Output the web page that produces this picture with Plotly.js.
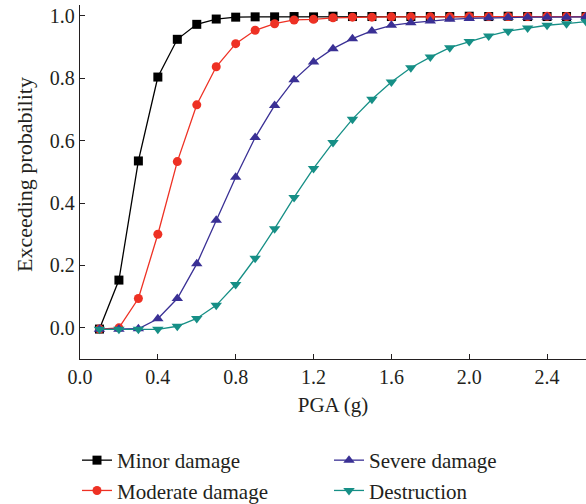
<!DOCTYPE html>
<html>
<head>
<meta charset="utf-8">
<script src="https://cdn.plot.ly/plotly-3.0.1.min.js"></script>
<style>html,body{margin:0;padding:0;background:#fff;}#chart{width:586px;height:504px;}</style>
</head>
<body>
<div id="chart"></div>
<script>
const pga = [0.1,0.2,0.3,0.4,0.5,0.6,0.7,0.8,0.9,1.0,1.1,1.2,1.3,1.4,1.5,1.6,1.7,1.8,1.9,2.0,2.1,2.2,2.3,2.4,2.5,2.6];
const minorDamage = [-0.004,0.153,0.535,0.804,0.925,0.973,0.99,0.996,0.997,0.997,0.998,0.997,0.999,0.998,0.998,0.998,0.998,0.998,0.998,0.999,0.998,0.999,0.998,0.998,0.998,0.998];
const moderateDamage = [-0.004,0.0,0.094,0.30,0.533,0.715,0.837,0.911,0.954,0.975,0.987,0.989,0.994,0.996,0.996,0.997,0.997,0.997,0.997,0.998,0.998,0.998,0.998,0.999,0.998,0.998];
const severeDamage = [-0.005,-0.005,-0.003,0.029,0.094,0.205,0.345,0.483,0.61,0.713,0.795,0.852,0.895,0.927,0.952,0.97,0.978,0.984,0.989,0.992,0.994,0.995,0.996,0.996,0.996,0.997];
const destruction = [-0.005,-0.005,-0.005,-0.005,0.005,0.03,0.072,0.139,0.223,0.318,0.418,0.511,0.594,0.669,0.733,0.788,0.834,0.868,0.898,0.918,0.936,0.951,0.961,0.970,0.975,0.982];
const xTicks = [0.0,0.4,0.8,1.2,1.6,2.0,2.4];
const yTicks = [0.0,0.2,0.4,0.6,0.8,1.0];
const xTitle = 'PGA (g)';
const yTitle = 'Exceeding probability';

const font = "Liberation Serif, Times New Roman, serif";
function tr(name, y, color, symbol, size, legend){
  return {x: pga, y: y, name: name, type: 'scatter', mode: 'lines+markers', legend: legend,
    line: {color: color, width: 1.3}, marker: {color: color, symbol: symbol, size: size}, cliponaxis: false};
}
const data = [
  tr('Minor damage', minorDamage, '#000000', 'square', 9, 'legend'),
  tr('Moderate damage', moderateDamage, '#ee3124', 'circle', 9, 'legend'),
  tr('Severe damage', severeDamage, '#3a3095', 'triangle-up', 10, 'legend2'),
  tr('Destruction', destruction, '#168f86', 'triangle-down', 10, 'legend2')
];
const legBase = {xref: 'container', xanchor: 'left', yref: 'container', yanchor: 'top',
  orientation: 'v', traceorder: 'normal', font: {family: font, size: 21}, bgcolor: 'rgba(0,0,0,0)'};
const layout = {
  width: 586, height: 504,
  margin: {l: 80, r: 0, t: 5, b: 145, autoexpand: false},
  paper_bgcolor: '#fff', plot_bgcolor: '#fff',
  font: {family: font, size: 20, color: '#231f20'},
  showlegend: true,
  xaxis: {range: [0, 2.6], tickvals: xTicks, ticktext: xTicks.map(v => v.toFixed(1)),
    ticks: 'inside', ticklen: 5, tickcolor: '#231f20', showline: true, linecolor: '#231f20', linewidth: 1.2,
    showgrid: false, zeroline: false, mirror: false, automargin: false,
    tickfont: {family: font, size: 20},
    title: {text: xTitle, font: {family: font, size: 21}, standoff: 10}},
  yaxis: {range: [-0.1, 1.035], tickvals: yTicks, ticktext: yTicks.map(v => v.toFixed(1)),
    ticks: 'inside', ticklen: 5, tickcolor: '#231f20', showline: true, linecolor: '#231f20', linewidth: 1.2,
    showgrid: false, zeroline: false, automargin: false,
    tickfont: {family: font, size: 20}},
  annotations: [{text: yTitle, xref: 'paper', yref: 'paper', x: (24 - 80) / 506, y: (359 - 175) / 354,
    xanchor: 'center', yanchor: 'middle', textangle: -90, showarrow: false,
    font: {family: font, size: 22, color: '#231f20'}}],
  legend: Object.assign({}, legBase, {x: 77 / 586, y: 1 - 440 / 504}),
  legend2: Object.assign({}, legBase, {x: 329 / 586, y: 1 - 440 / 504}),
};
Plotly.newPlot('chart', data, layout, {displayModeBar: false, staticPlot: true});
</script>
</body>
</html>
